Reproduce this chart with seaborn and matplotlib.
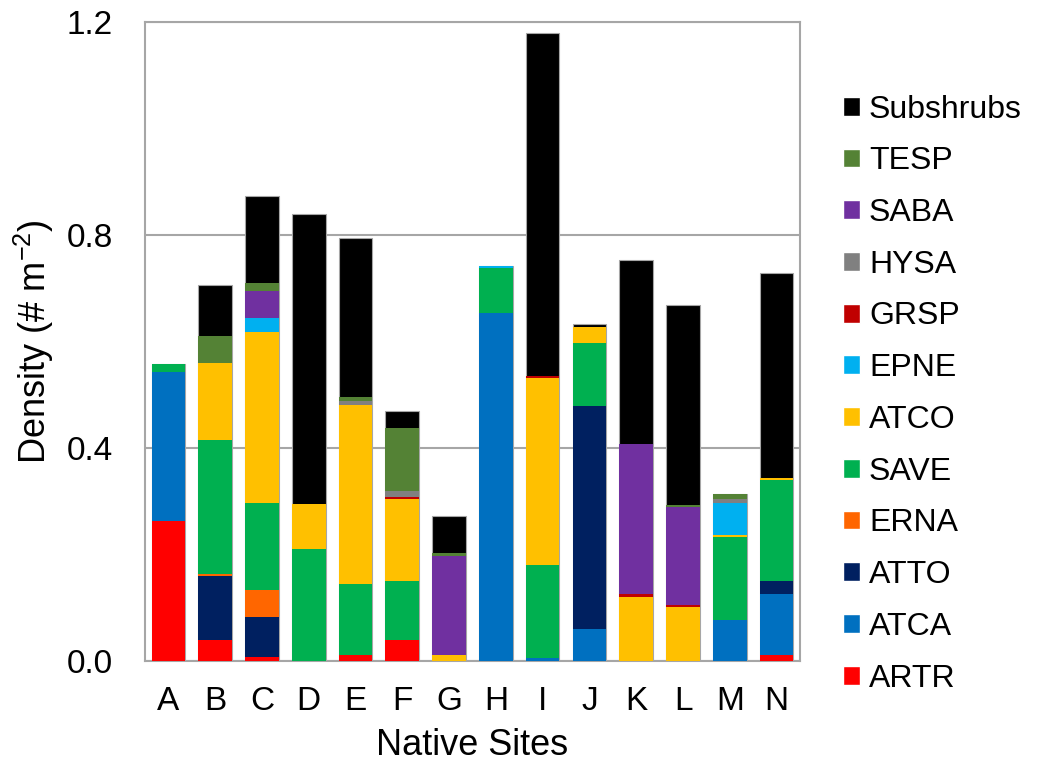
import numpy as np
import pandas as pd
import seaborn as sns
import matplotlib.pyplot as plt
from matplotlib.patches import Patch

sites = ["A", "B", "C", "D", "E", "F", "G", "H", "I", "J", "K", "L", "M", "N"]

# density (# m-2) per species, stacked bottom -> top
ARTR = [0.262, 0.039, 0.007, 0.0, 0.011, 0.039, 0.0, 0.0, 0.0, 0.0, 0.0, 0.0, 0.0, 0.011]
ATCA = [0.281, 0.0, 0.0, 0.0, 0.0, 0.0, 0.0, 0.653, 0.005, 0.060, 0.0, 0.0, 0.077, 0.115]
ATTO = [0.0, 0.121, 0.076, 0.0, 0.0, 0.0, 0.0, 0.0, 0.0, 0.418, 0.0, 0.0, 0.0, 0.025]
ERNA = [0.0, 0.003, 0.051, 0.0, 0.0, 0.0, 0.0, 0.0, 0.0, 0.0, 0.0, 0.0, 0.0, 0.0]
SAVE = [0.015, 0.252, 0.162, 0.210, 0.134, 0.112, 0.0, 0.085, 0.175, 0.120, 0.0, 0.0, 0.156, 0.188]
ATCO = [0.0, 0.145, 0.322, 0.084, 0.335, 0.154, 0.011, 0.0, 0.352, 0.030, 0.120, 0.101, 0.003, 0.004]
EPNE = [0.0, 0.0, 0.026, 0.0, 0.0, 0.0, 0.0, 0.003, 0.0, 0.0, 0.0, 0.0, 0.060, 0.0]
GRSP = [0.0, 0.0, 0.0, 0.0, 0.0, 0.003, 0.0, 0.0, 0.003, 0.0, 0.006, 0.004, 0.0, 0.0]
HYSA = [0.0, 0.0, 0.0, 0.0, 0.008, 0.012, 0.0, 0.0, 0.0, 0.0, 0.0, 0.0, 0.009, 0.0]
SABA = [0.0, 0.0, 0.050, 0.0, 0.0, 0.0, 0.187, 0.0, 0.0, 0.0, 0.281, 0.185, 0.0, 0.0]
TESP = [0.0, 0.050, 0.015, 0.0, 0.008, 0.117, 0.004, 0.0, 0.0, 0.0, 0.0, 0.003, 0.008, 0.0]
Subshrubs = [0.0, 0.096, 0.165, 0.545, 0.298, 0.033, 0.070, 0.0, 0.645, 0.004, 0.346, 0.375, 0.0, 0.386]

species = ["ARTR", "ATCA", "ATTO", "ERNA", "SAVE", "ATCO", "EPNE", "GRSP", "HYSA", "SABA", "TESP", "Subshrubs"]
colors = ["#FF0000", "#0070C0", "#002060", "#FF6600", "#00B050", "#FFC000",
          "#00B0F0", "#C00000", "#808080", "#7030A0", "#548235", "#000000"]

df = pd.DataFrame([ARTR, ATCA, ATTO, ERNA, SAVE, ATCO, EPNE, GRSP, HYSA, SABA, TESP, Subshrubs],
                  index=species, columns=sites)
cum = df.cumsum(axis=0)

sns.set_style("white")
plt.rcParams["font.family"] = ["Liberation Sans", "DejaVu Sans"]
plt.rcParams.update({"text.color": "black", "axes.labelcolor": "black",
                     "xtick.color": "black", "ytick.color": "black"})

fig = plt.figure(figsize=(10.4, 7.72), dpi=100)
ax = fig.add_axes([0.1394, 0.1438, 0.6298, 0.8277])

# draw tallest cumulative first, then layer lower ones on top
for i, (sp, c) in enumerate(reversed(list(zip(species, colors)))):
    if i == 0:
        sns.barplot(x=sites, y=cum.loc[sp].values, color=c, width=0.72, saturation=1,
                    ax=ax, zorder=3, edgecolor="#A6A6A6", linewidth=0.8)
    else:
        sns.barplot(x=sites, y=cum.loc[sp].values, color=c, width=0.72, saturation=1,
                    ax=ax, zorder=3, edgecolor="none", linewidth=0)

ax.set_ylim(0, 1.2)
ax.set_yticks([0.0, 0.4, 0.8, 1.2])
ax.set_yticklabels(["0.0", "0.4", "0.8", "1.2"])
ax.grid(axis="y", color="#A6A6A6", lw=1.5, zorder=0)
for s in ax.spines.values():
    s.set_color("#A6A6A6")
    s.set_linewidth(1.5)
ax.tick_params(axis="y", length=0, labelsize=24, pad=23)
ax.tick_params(axis="x", length=0, labelsize=24, pad=18)
ax.set_xlabel("Native Sites", fontsize=26, labelpad=8)
ax.set_ylabel("Density (# m$^{\\mathregular{-2}}$)", fontsize=26, labelpad=8)

handles = [Patch(facecolor=c, label=sp) for sp, c in zip(species, colors)][::-1]
fig.legend(handles=handles, loc="center left", bbox_to_anchor=(0.8106, 0.4896),
           frameon=False, fontsize=23, handlelength=0.53, handleheight=0.53,
           handletextpad=0.28, labelspacing=0.68, borderaxespad=0, borderpad=0)

fig.savefig("out.png", dpi=100)
